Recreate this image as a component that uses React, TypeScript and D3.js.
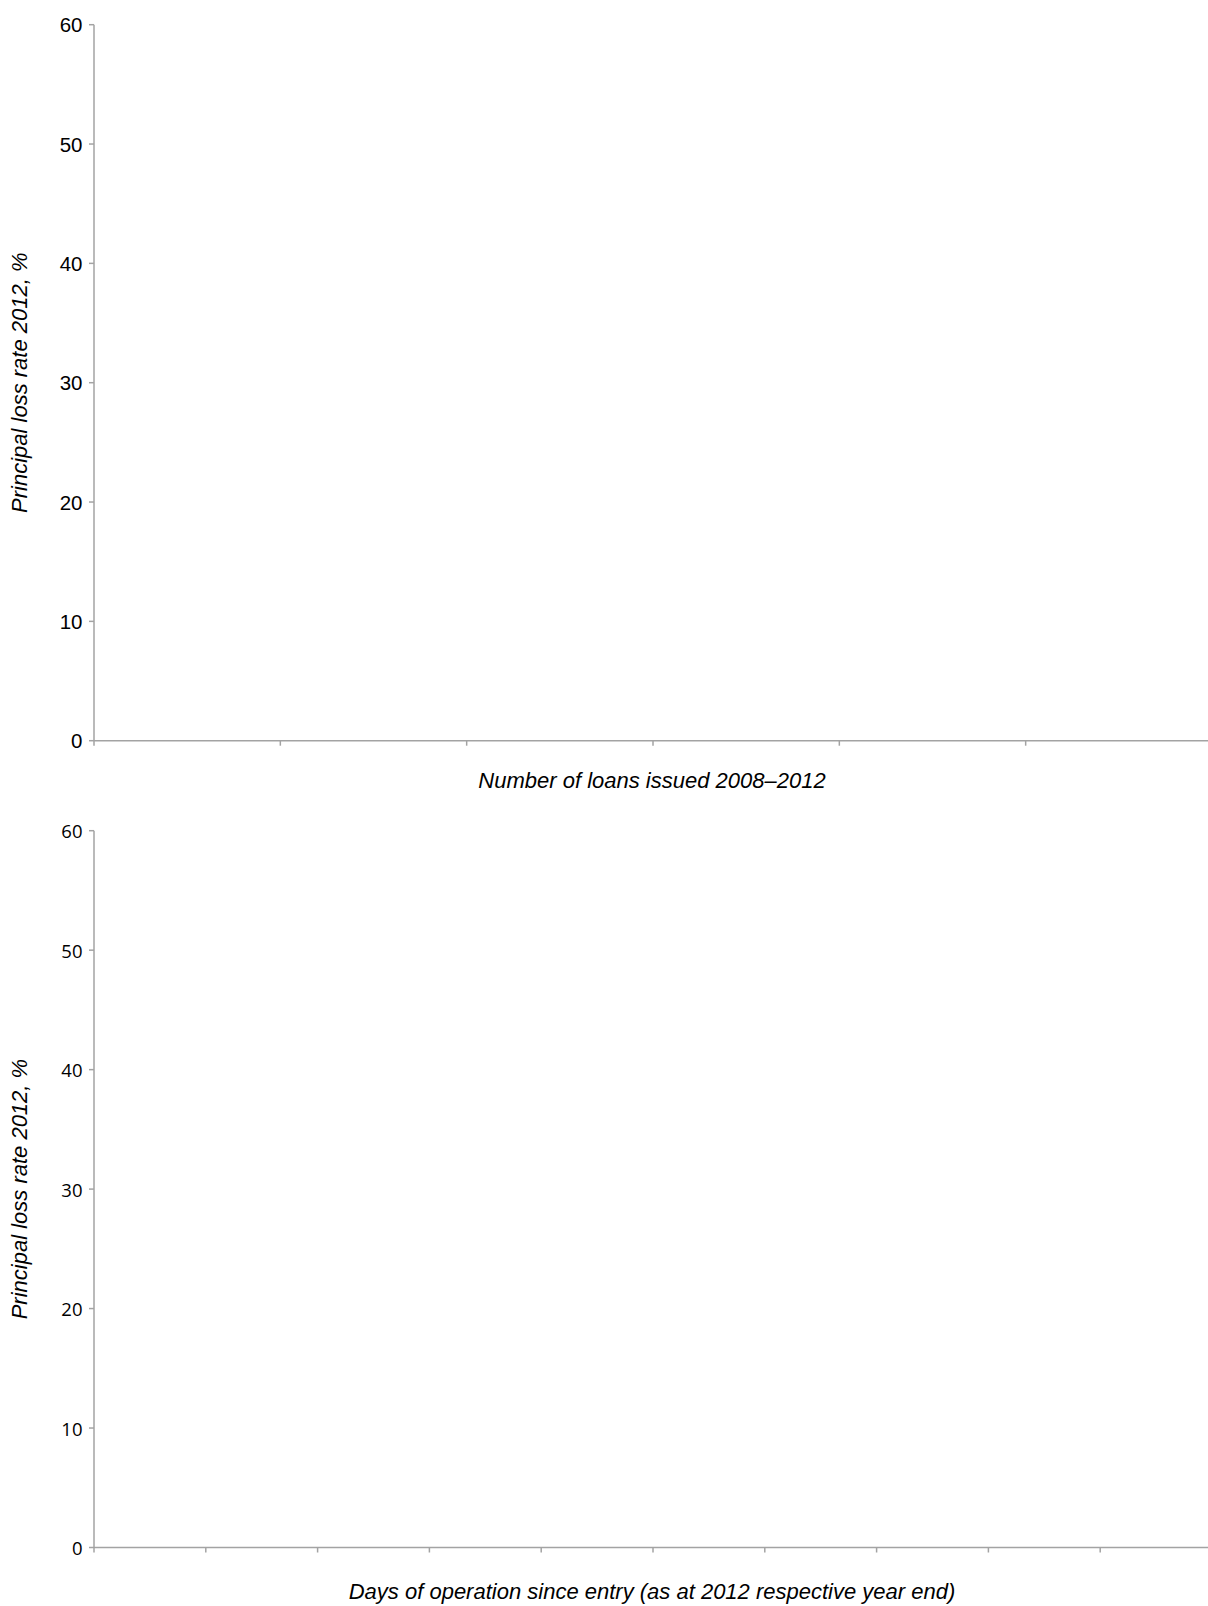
import React from "react";
import * as d3 from "d3";

// ---- Data (the reference shows empty plot areas: no plotted points) ----
const yTicks = [0, 10, 20, 30, 40, 50, 60];
const loansTicks = [0, 1000, 2000, 3000, 4000, 5000];
const daysTicks = [0, 250, 500, 750, 1000, 1250, 1500, 1750, 2000, 2250];
const loansSeries: { x: number; y: number }[] = [];
const daysSeries: { x: number; y: number }[] = [];

const W = 1208;
const H = 1606;
const AXIS = "#a3a3a3";

type PanelProps = {
  top: number;
  bottom: number;
  xDomain: [number, number];
  xTicks: number[];
  points: { x: number; y: number }[];
  xTitle: string;
  titleBaseline: number;
  tickFont: string;
  tickSize: number;
};

function Panel(p: PanelProps) {
  const x = d3.scaleLinear().domain(p.xDomain).range([94, 1212]);
  const y = d3.scaleLinear().domain([0, 60]).range([p.bottom, p.top]);
  const x0 = x(p.xDomain[0]);
  const yMid = (p.top + p.bottom) / 2;
  return (
    <g>
      {/* data points (none visible in reference) */}
      {p.points.map((d, i) => (
        <circle key={i} cx={x(d.x)} cy={y(d.y)} r={4} fill="#4f81bd" />
      ))}
      {/* y axis */}
      <line x1={x0} x2={x0} y1={y(60)} y2={y(0)} stroke={AXIS} strokeWidth={1.5} />
      {yTicks.map((t) => (
        <g key={t}>
          <line x1={x0 - 5} x2={x0} y1={y(t)} y2={y(t)} stroke={AXIS} strokeWidth={1.5} />
          <text
            x={82.5}
            y={y(t)}
            textAnchor="end"
            dominantBaseline="central"
            fontFamily={p.tickFont}
            fontSize={p.tickSize}
            fill="#000"
          >
            {t}
          </text>
        </g>
      ))}
      {/* x axis */}
      <line x1={x0} x2={x(p.xDomain[1])} y1={y(0)} y2={y(0)} stroke={AXIS} strokeWidth={1.5} />
      {p.xTicks.map((t) => (
        <line key={t} x1={x(t)} x2={x(t)} y1={y(0)} y2={y(0) + 5} stroke={AXIS} strokeWidth={1.5} />
      ))}
      {/* titles */}
      <text
        x={652}
        y={p.titleBaseline}
        textAnchor="middle"
        fontFamily="'Liberation Sans', Arial, sans-serif"
        fontStyle="italic"
        fontSize={22}
        fill="#000"
      >
        {p.xTitle}
      </text>
      <text
        transform={`translate(27,${yMid}) rotate(-90)`}
        textAnchor="middle"
        fontFamily="'Liberation Sans', Arial, sans-serif"
        fontStyle="italic"
        fontSize={22}
        fill="#000"
      >
        Principal loss rate 2012, %
      </text>
    </g>
  );
}

export default function App() {
  return (
    <svg
      width={W}
      height={H}
      viewBox={`0 0 ${W} ${H}`}
      style={{ position: "absolute", left: 0, top: 0, background: "#fff" }}
    >
      <rect x={0} y={0} width={W} height={H} fill="#fff" />
      <Panel
        top={24.7}
        bottom={740.7}
        xDomain={[0, 6000]}
        xTicks={loansTicks}
        points={loansSeries}
        xTitle="Number of loans issued 2008–2012"
        titleBaseline={787.5}
        tickFont="'Liberation Sans', Arial, sans-serif"
        tickSize={20.5}
      />
      <Panel
        top={830.7}
        bottom={1547.5}
        xDomain={[0, 2500]}
        xTicks={daysTicks}
        points={daysSeries}
        xTitle="Days of operation since entry (as at 2012 respective year end)"
        titleBaseline={1599}
        tickFont="'Open Sans', 'Noto Sans', sans-serif"
        tickSize={18.5}
      />
    </svg>
  );
}
